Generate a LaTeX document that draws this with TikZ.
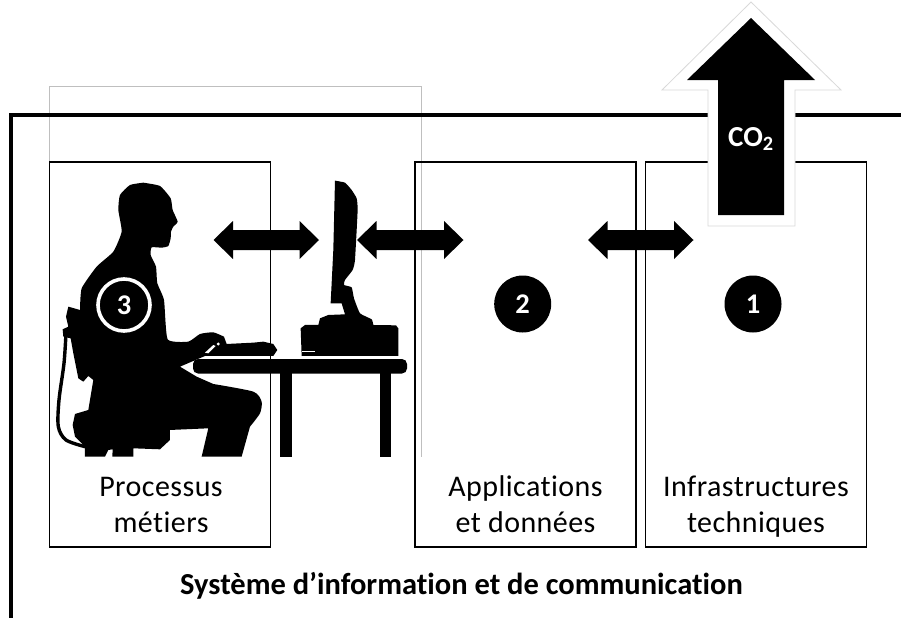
\documentclass[tikz,border=0pt]{standalone}
\usepackage{fontspec}
\setmainfont{Carlito}[Ligatures=NoCommon]
\newfontfamily\lblfont{Carlito}[Ligatures=NoCommon,LetterSpace=1.5]
\newcommand{\dblarrow}[3]{% x-left, x-right, y
  \fill[black] (#1,#3) -- (#1+19.5,#3-19) -- (#1+19.5,#3-10) -- (#2-19.5,#3-10) -- (#2-19.5,#3-19) -- (#2,#3) -- (#2-19.5,#3+19) -- (#2-19.5,#3+10) -- (#1+19.5,#3+10) -- (#1+19.5,#3+19) -- cycle;}
\tikzset{
  panel/.style={draw=black,line width=1.1pt,fill=none,minimum width=221pt,minimum height=385pt,inner sep=0pt,outer sep=0pt},
  numdot/.style={circle,fill=black,text=white,minimum size=57pt,inner sep=0pt,font=\fontsize{28.5}{28.5}\selectfont\bfseries},
  lbl/.style={align=center,anchor=base,font=\lblfont\fontsize{30}{36}\selectfont,inner sep=0pt,text=black}
}
\begin{document}
\begin{tikzpicture}[x=1pt,y=-1pt]
\useasboundingbox (0,0) rectangle (901,618);
\fill[white] (0,0) rectangle (901,618);
% gray frame
\draw[black!25,line width=1pt] (49,162) -- (49,86) -- (421,86) -- (421,457);
% main L frame
\draw[black,line width=4.2pt] (901,115) -- (11,115) -- (11,618);
% panels
\node[panel] (procbox) at (160,354.5) {};
\node[panel] (appbox) at (525.5,354.5) {};
\node[panel] (infrabox) at (756,354.5) {};
% labels
\node[lbl] (proclbl) at (161,532) {Processus\\métiers};
\node[lbl] (applbl) at (525.5,532) {Applications\\et données};
\node[lbl] (infralbl) at (756,532) {Infrastructures\\techniques};
\node[font=\fontsize{30.5}{32}\selectfont\bfseries,inner sep=0pt,anchor=base] (title) at (461.5,594) {Système d’information et de communication};
% CO2 arrow
\path[fill=white,draw=black!15,line width=.8pt] (751,2) -- (841,90) -- (795,90) -- (795,226) -- (708,226) -- (708,90) -- (662,90) -- cycle;
\fill[black] (751,18) -- (815,80) -- (784,80) -- (784,215) -- (718,215) -- (718,80) -- (687,80) -- cycle;
\node[text=white,inner sep=0pt,font=\fontsize{29}{29}\selectfont\bfseries] (co2) at (751,139) {CO\textsubscript{2}};
% table
\fill[black,rounded corners=5pt] (193,359) rectangle (407,373.5);
\fill[black] (280,373) rectangle (292,457);
\fill[black] (380,373) rectangle (391,457);
% monitor and base
\begin{scope}[shift={(190,170)},x=0.3333pt,y=-0.3333pt]
\fill[black] plot[smooth,tension=0.25] coordinates {(435,32) (465,38) (485,60) (500,85) (503,120) (495,270) (488,300) (465,330) (462,345) (485,352) (492,385) (510,430) (545,448) (550,465)}
 -- (618,466) -- (625,475) -- (625,558) -- (335,558) -- (332,475) -- (345,465) -- (385,465) -- (390,445) -- (415,435) -- (465,433) -- (455,400) -- (422,400) -- (430,240) -- cycle;
\draw[white,line width=0.6pt] (335,545) -- (375,545);
\end{scope}
% person
\begin{scope}[shift={(40,160)},x=0.3333pt,y=-0.3333pt]
\fill[black] plot[smooth,tension=0.3] coordinates {(310,68) (360,78) (392,115) (398,150) (413,185) (400,200) (393,215) (392,235) (385,258) (365,263) (335,262) (332,285) (348,320) (352,370) (372,420) (383,538) (445,545) (480,522) (520,517) (552,530)}
 -- (560,552) -- (640,548) -- (670,545) -- (700,552) -- (712,570) -- (700,588) -- (495,588) -- (455,605) -- (420,620) -- (470,650) -- (520,672)
 -- plot[smooth,tension=0.4] coordinates {(520,672) (640,695) (665,725) (660,760) (630,800)}
 -- (605,890) -- (485,890) -- (505,805) -- (390,810) -- (390,840) -- (360,868) -- (280,865) -- (280,890) -- (217,890) -- (218,868) -- (205,870) -- (195,890) -- (135,890) -- (135,860) -- (105,830) -- (98,795) -- (105,762) -- (145,750) -- (160,660) -- (145,648) -- (130,665) -- (115,655) -- (100,580) -- (92,535) -- (70,530) -- (68,508) -- (85,500) -- (78,470) -- (85,440) -- (120,450)
 -- plot[smooth,tension=0.3] coordinates {(120,450) (125,385) (170,320) (220,275) (245,215) (235,150) (240,105) (270,75) (310,68)} -- cycle;
\draw[black,line width=3.4pt,line cap=round] plot[smooth,tension=0.5] coordinates {(78,520) (72,610) (57,720) (55,800) (78,840) (135,860)};
\fill[white] (535,552) circle (5);
\fill[white] (495,578) -- (520,555) -- (527,558) -- (505,580) -- cycle;
\end{scope}
\node[circle,draw=white,line width=3.6pt,text=white,minimum size=52pt,inner sep=0pt,font=\fontsize{28.5}{28.5}\selectfont\bfseries] (three) at (124,305) {3};
\node[numdot] (two) at (522.7,304) {2};
\node[numdot] (one) at (753,304) {1};
% double arrows
\dblarrow{213.5}{319}{240}
\dblarrow{357}{463.5}{240}
\dblarrow{588}{693.5}{240}
\end{tikzpicture}
\end{document}
